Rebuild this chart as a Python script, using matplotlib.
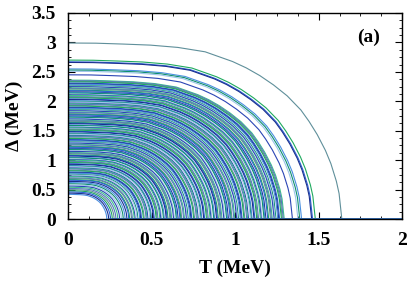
import numpy as np
import matplotlib
matplotlib.use('Agg')
import matplotlib.pyplot as plt
from matplotlib.ticker import MultipleLocator

plt.rcParams['font.family'] = ['Liberation Serif', 'DejaVu Serif']
plt.rcParams['font.weight'] = 'bold'

# zero-temperature gaps (MeV) at T = 0
gap0 = [2.99, 2.70, 2.67, 2.66, 2.55, 2.53, 2.51, 2.45,
        2.36, 2.35, 2.34, 2.33, 2.31, 2.30, 2.29, 2.27, 2.26, 2.25,
        2.23, 2.22, 2.21, 2.19, 2.18, 2.16, 2.15, 2.14, 2.12, 2.11,
        2.10, 2.08, 2.07, 2.06, 2.04, 2.03, 2.01, 2.00, 1.99, 1.97,
        1.96, 1.95, 1.93, 1.92, 1.90, 1.89, 1.88, 1.86, 1.85, 1.84,
        1.82, 1.81, 1.79, 1.78, 1.77, 1.75, 1.74, 1.73, 1.71, 1.70,
        1.68, 1.67, 1.66, 1.64, 1.63, 1.62, 1.60, 1.59, 1.57, 1.56,
        1.55, 1.53, 1.52, 1.51, 1.49, 1.48, 1.46, 1.45, 1.44, 1.42,
        1.41, 1.40, 1.38, 1.37, 1.35, 1.34, 1.33, 1.31, 1.30, 1.29,
        1.27, 1.26, 1.24, 1.23, 1.22, 1.20, 1.19, 1.18, 1.16, 1.15,
        1.13, 1.12, 1.11, 1.09, 1.08, 1.07, 1.05, 1.04, 1.02, 1.01,
        1.00, 0.98, 0.97, 0.96, 0.94, 0.93, 0.91, 0.90, 0.89, 0.87,
        0.86, 0.85, 0.83, 0.82, 0.80, 0.79, 0.78, 0.76, 0.75, 0.73,
        0.72, 0.70, 0.69, 0.67, 0.66, 0.64, 0.62, 0.60, 0.58, 0.56,
        0.54, 0.52, 0.50, 0.48, 0.46, 0.44, 0.42]

# critical temperature per MeV of gap (top curve: 2.99 MeV -> Tc ~ 1.635)
tc_per_gap = 0.548

# shape of one gap curve: T/Tc vs gap/gap0
t_ratio = [0.0, 0.1, 0.2, 0.3, 0.4, 0.5, 0.6, 0.65, 0.7, 0.75, 0.8,
           0.85, 0.88, 0.91, 0.94, 0.96, 0.98, 0.99, 1.0]
gap_ratio = [1.0, 0.999, 0.994, 0.988, 0.975, 0.950, 0.895, 0.859, 0.815,
             0.762, 0.700, 0.620, 0.555, 0.480, 0.390, 0.315, 0.215,
             0.145, 0.0]

colors = ['#5f8f9a', '#1faa5e', '#2a62d4', '#1b2f8f', '#4a8fe0',
          '#0f8f6f', '#9cc4ea', '#2b45b5', '#3cc08a', '#5577c0']

fig = plt.figure(figsize=(4.15, 2.82), dpi=100)
ax = fig.add_axes([0.165, 0.223, 0.804, 0.731])

for i, g in enumerate(gap0):
    tc = tc_per_gap * g
    T = [tc * t for t in t_ratio] + [2.0]
    D = [g * d for d in gap_ratio] + [0.0]
    ax.plot(T, D, color=colors[i % len(colors)], lw=0.8)

ax.set_xlim(0, 2)
ax.set_ylim(0, 3.5)
ax.xaxis.set_major_locator(MultipleLocator(0.5))
ax.xaxis.set_minor_locator(MultipleLocator(0.125))
ax.yaxis.set_major_locator(MultipleLocator(0.5))
ax.yaxis.set_minor_locator(MultipleLocator(0.125))
ax.xaxis.set_major_formatter(plt.FuncFormatter(lambda v, p: f'{v:g}'))
ax.yaxis.set_major_formatter(plt.FuncFormatter(lambda v, p: f'{v:g}'))
ax.tick_params(which='both', direction='in', top=True, right=True,
               labelsize=14, pad=9)
ax.tick_params(which='major', length=5)
ax.tick_params(which='minor', length=2.5)
for s in ax.spines.values():
    s.set_linewidth(1.0)

ax.set_xlabel('T (MeV)', fontsize=14, fontweight='bold', labelpad=8)
ax.set_ylabel('Δ (MeV)', fontsize=14, fontweight='bold', labelpad=6)
ax.text(0.935, 0.86, '(a)', transform=ax.transAxes, fontsize=14,
        fontweight='bold', ha='right')

fig.savefig('out.png', dpi=100)
